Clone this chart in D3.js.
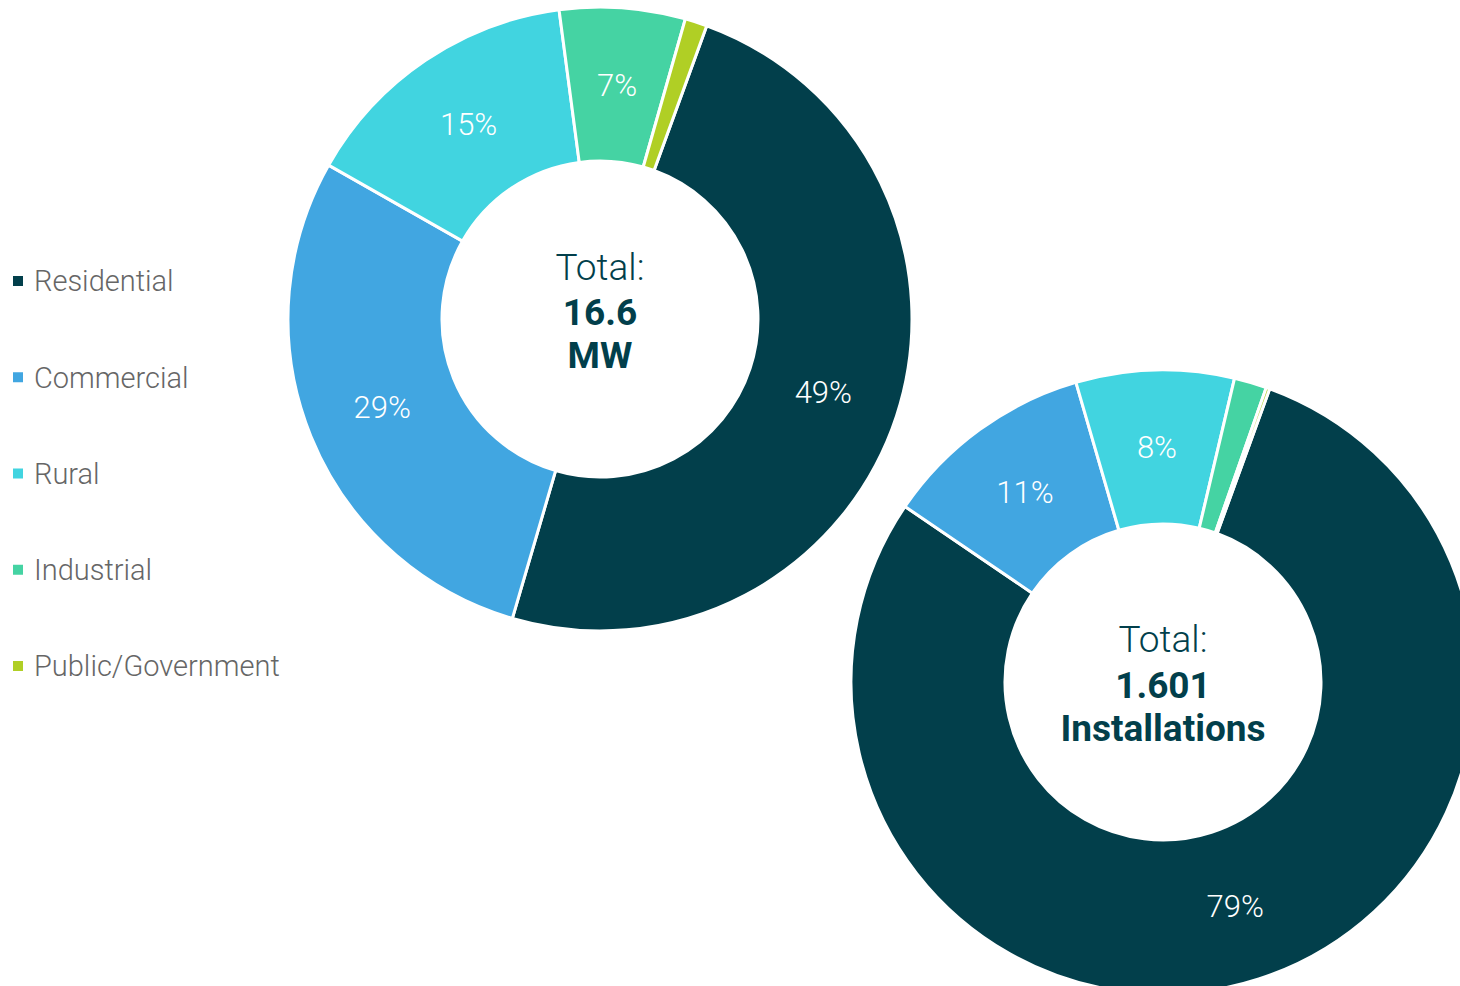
<!DOCTYPE html>
<html>
<head>
<meta charset="utf-8">
<script src="https://cdn.jsdelivr.net/npm/d3@7"></script>
<style>
  html, body { margin: 0; padding: 0; background: #fff; }
  svg { display: block; font-family: Roboto, "Open Sans", sans-serif; }
</style>
</head>
<body>
<svg id="chart" width="1460" height="986"></svg>
<script>
// Segment names and colours
const categories = ["Residential", "Commercial", "Rural", "Industrial", "Public/Government"];
const colors = ["#023f4b", "#41a6e1", "#41d4e0", "#45d3a3", "#b0cf25"];

// Installed capacity by segment (MW), total 16.6 MW
const capacityMW = [8.13, 4.76, 2.44, 1.08, 0.19];
// Number of installations by segment, total 1.601
const installations = [1264, 176, 131, 27, 3];

const centerCapacity = ["Total:", "16.6", "MW"];
const centerInstall = ["Total:", "1.601", "Installations"];

const svg = d3.select("#chart");

const color = d3.scaleOrdinal().domain(categories).range(colors);

const startAngle = 20 * Math.PI / 180;
const pie = d3.pie().sort(null).value(d => d.value)
  .startAngle(startAngle).endAngle(startAngle + 2 * Math.PI);

const outerR = 312, innerR = 158;
const arc = d3.arc().innerRadius(innerR).outerRadius(outerR);

function donut(values, cx, cy, lines, lineY) {
  const data = categories.map((c, i) => ({ cat: c, value: values[i] }));
  const total = d3.sum(values);
  const g = svg.append("g").attr("transform", `translate(${cx},${cy})`);
  const arcs = pie(data);

  g.selectAll("path").data(arcs).join("path")
    .attr("d", arc)
    .attr("fill", d => color(d.data.cat))
    .attr("stroke", "#fff")
    .attr("stroke-width", 3)
    .attr("stroke-linejoin", "miter");

  // Percentage labels for the larger slices
  g.selectAll("text.pct").data(arcs.filter(d => d.data.value / total >= 0.03)).join("text")
    .attr("class", "pct")
    .attr("transform", d => `translate(${arc.centroid(d)})`)
    .attr("text-anchor", "middle")
    .attr("dy", "0.36em")
    .attr("fill", "#fff")
    .attr("font-size", 31)
    .attr("font-weight", 300)
    .text(d => Math.round(d.data.value / total * 100) + "%");

  // Total in the hole
  g.selectAll("text.center").data(lines).join("text")
    .attr("class", "center")
    .attr("text-anchor", "middle")
    .attr("y", (d, i) => lineY[i])
    .attr("fill", "#023f4b")
    .attr("font-size", (d, i) => i === 0 ? 37 : 37)
    .attr("font-weight", (d, i) => i === 0 ? 300 : 700)
    .text(d => d);
}

donut(capacityMW, 600, 319, centerCapacity, [-39, 6, 49]);
donut(installations, 1163, 682, centerInstall, [-30, 16, 59]);

// Legend
const legend = svg.append("g").attr("transform", "translate(13,0)");
const rowY = d3.scalePoint().domain(categories).range([281, 666]);
const rows = legend.selectAll("g").data(categories).join("g")
  .attr("transform", d => `translate(0,${rowY(d)})`);
rows.append("rect")
  .attr("x", 0).attr("y", -5).attr("width", 10).attr("height", 10)
  .attr("fill", d => color(d));
rows.append("text")
  .attr("x", 21).attr("dy", "0.36em")
  .attr("fill", "#666")
  .attr("font-size", 29)
  .attr("font-weight", 300)
  .text(d => d);
</script>
</body>
</html>
